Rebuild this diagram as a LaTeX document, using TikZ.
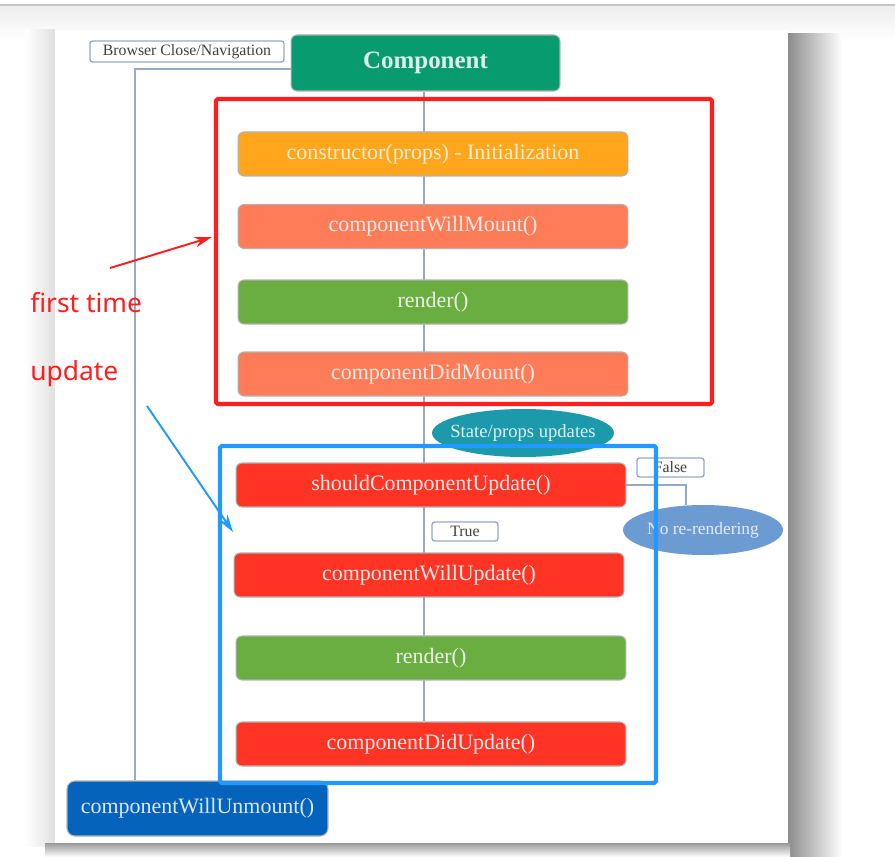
\documentclass[tikz,border=0pt]{standalone}
\usepackage{fontspec}
\setmainfont{Liberation Serif}
\newfontfamily\notefont{Noto Sans}
\usetikzlibrary{arrows.meta, shapes.geometric, calc, backgrounds}
\definecolor{compGreen}{RGB}{8, 155, 112}
\definecolor{ctorOrange}{RGB}{255, 166, 28}
\definecolor{mountCoral}{RGB}{255, 124, 88}
\definecolor{renderGreen}{RGB}{106, 173, 64}
\definecolor{updateRed}{RGB}{255, 52, 36}
\definecolor{unmountBlue}{RGB}{5, 99, 188}
\definecolor{stateTeal}{RGB}{28, 154, 171}
\definecolor{skipBlue}{RGB}{108, 155, 210}
\definecolor{flowLine}{RGB}{150, 170, 200}
\definecolor{noteRed}{RGB}{255, 30, 30}
\definecolor{noteBlue}{RGB}{34, 153, 255}
\tikzset{
  stepBox/.style={
    rectangle,
    rounded corners=3.5pt,
    draw=black!30,
    line width=0.6pt,
    minimum width=7.8cm,
    minimum height=0.88cm,
    inner sep=0pt,
    font=\fontsize{12.5}{14}\selectfont
  },
  stateBubble/.style={
    ellipse,
    inner xsep=-5.5pt,
    inner ysep=0pt,
    font=\fontsize{10.6}{12}\selectfont
  },
  tagBox/.style={
    rectangle,
    rounded corners=1.5pt,
    draw=flowLine,
    line width=0.8pt,
    fill=white,
    inner sep=0pt,
    text=black!75,
    font=\fontsize{9}{10}\selectfont
  },
  flow/.style={
    draw=flowLine,
    line width=0.9pt
  },
  noteArrow/.style={
    -{Stealth[length=10pt, width=6pt]},
    line width=1.1pt
  },
  noteText/.style={
    font=\notefont\fontsize{15}{18}\selectfont,
    text=noteRed,
    anchor=west,
    inner sep=0pt
  }
}
\begin{document}
\begin{tikzpicture}[x=0.02cm, y=-0.02cm]
  \useasboundingbox (0,0) rectangle (895,857);
  % lifecycle steps
  \node[stepBox, fill=compGreen, minimum width=5.38cm, minimum height=1.12cm,
        text=white!85!compGreen, font=\fontsize{14.2}{16}\selectfont\bfseries] (comp) at (425.5,63) {Component};
  \node[tagBox, minimum width=3.88cm, minimum height=0.42cm] (browser) at (187,51.5) {Browser Close/Navigation};
  \node[stepBox, fill=ctorOrange, text=white!80!ctorOrange] (ctor) at (433,154) {constructor(props) - Initialization};
  \node[stepBox, fill=mountCoral, text=white!85!mountCoral] (willMount) at (433,226.5) {componentWillMount()};
  \node[stepBox, fill=renderGreen, text=white!85!renderGreen] (renderA) at (433,302) {render()};
  \node[stepBox, fill=mountCoral, text=white!85!mountCoral] (didMount) at (433,374) {componentDidMount()};
  \node[stateBubble, fill=stateTeal, text=white!85!stateTeal, minimum width=3.64cm, minimum height=0.96cm] (stateUpd) at (523,433) {State/props updates};
  \node[stepBox, fill=updateRed, text=white!88!updateRed] (should) at (431,485) {shouldComponentUpdate()};
  \node[tagBox, minimum width=1.34cm, minimum height=0.38cm] (falseTag) at (670.5,467.5) {False};
  \node[stateBubble, fill=skipBlue, text=white!80!skipBlue, minimum width=3.2cm, minimum height=1cm,
        font=\fontsize{9.9}{11}\selectfont] (noRender) at (703,530) {No re-rendering};
  \node[tagBox, minimum width=1.32cm, minimum height=0.38cm] (trueTag) at (465,531.5) {True};
  \node[stepBox, fill=updateRed, text=white!88!updateRed] (willUpd) at (429,575) {componentWillUpdate()};
  \node[stepBox, fill=renderGreen, text=white!85!renderGreen] (renderB) at (431,658) {render()};
  \node[stepBox, fill=updateRed, text=white!88!updateRed] (didUpd) at (431,744) {componentDidUpdate()};
  \node[stepBox, fill=unmountBlue, text=white!85!unmountBlue, minimum width=5.22cm, minimum height=1.1cm,
        rounded corners=4.5pt] (unmount) at (197.5,808.5) {componentWillUnmount()};
  \coordinate (spine) at (424,0);
  \coordinate (closeBend) at (135,69);
  \coordinate (skipBend) at (686,0);
  % page, shadow and connectors behind the boxes
  \begin{scope}[on background layer]
    \shade[top color=black!7, bottom color=white] (0,6) rectangle (895,40);
    \draw[black!22, line width=1pt] (0,5) -- (895,5);
    \shade[left color=white, right color=black!12] (25,30) rectangle (55,846);
    \shade[left color=black!45, right color=white] (788,34) rectangle (842,857);
    \shade[top color=black!40, bottom color=white] (45,843) rectangle (790,857);
    \fill[white] (55,30) rectangle (788,843);
    \draw[flow] (comp.south -| spine) -- (didUpd.north -| spine);
    \draw[flow] (comp.west |- closeBend) -- (closeBend) -- (closeBend |- unmount.north);
    \draw[flow] (should.east) -| (skipBend |- noRender.north);
  \end{scope}
  % highlight frames
  \draw[noteRed, line width=2.4pt, rounded corners=1pt] (216,99) rectangle (712,404);
  \draw[noteBlue, line width=2.4pt, rounded corners=1pt] (220,446) rectangle (656,783);
  % notes
  \node[noteText] (firstNote) at (30,303) {first time};
  \node[noteText] (updateNote) at (30,374) {update};
  \coordinate (redTail) at (110,268);
  \coordinate (redHead) at (212,237);
  \coordinate (blueTail) at (147,406);
  \coordinate (blueHead) at (233,532);
  \draw[noteArrow, noteRed] (redTail) -- (redHead);
  \draw[noteArrow, noteBlue] (blueTail) -- (blueHead);
\end{tikzpicture}
\end{document}
